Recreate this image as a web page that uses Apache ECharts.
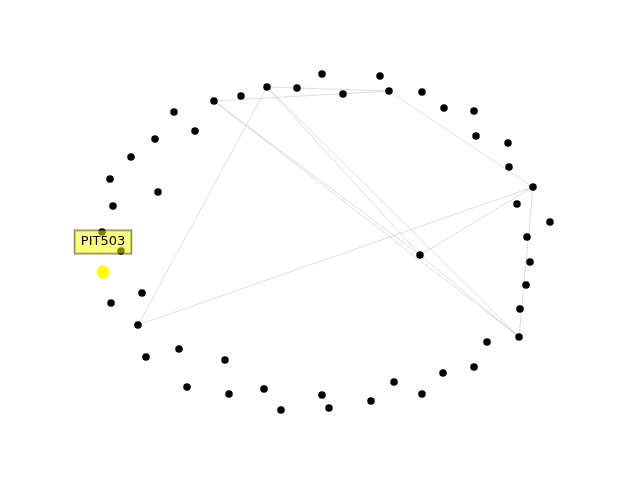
<!DOCTYPE html>
<html>
<head>
<meta charset="utf-8">
<script src="https://cdn.jsdelivr.net/npm/echarts@6/dist/echarts.min.js"></script>
<style>
html, body { margin: 0; padding: 0; background: #fff; }
#main { width: 640px; height: 480px; }
</style>
</head>
<body>
<div id="main"></div>
<script>
// node positions (pixel-like layout space, y grows downward)
var nodeX = [322, 380, 267, 297, 241, 214, 343, 389, 422, 444, 474, 476, 508, 509, 533, 517, 550, 527, 530, 526,
             520, 519, 487, 474, 443, 422, 394, 371, 329, 322, 281, 264, 229, 187, 225, 179, 146, 138, 142, 111,
             102, 121, 113, 110, 131, 155, 158, 174, 195, 420, 103];
var nodeY = [74, 76, 87, 88, 96, 101, 94, 91, 92, 108, 111, 136, 143, 167, 187, 204, 222, 237, 262, 285,
             309, 337, 342, 367, 373, 394, 382, 401, 408, 395, 410, 389, 394, 387, 360, 349, 357, 325, 293, 303,
             232, 251, 206, 179, 157, 139, 192, 112, 131, 255, 272];
var highlighted = 50;
var highlightName = 'PIT503';
var edgeFrom = [5, 2, 2, 37, 7, 14, 14, 5, 2, 2, 5, 49];
var edgeTo   = [7, 7, 37, 14, 14, 21, 49, 21, 21, 49, 49, 21];

var chart = echarts.init(document.getElementById('main'));

var nodes = nodeX.map(function (x, i) {
    var hl = i === highlighted;
    return {
        name: hl ? highlightName : 'n' + i,
        value: [x, nodeY[i]],
        symbolSize: hl ? 13 : 7.5,
        itemStyle: { color: hl ? '#ffff00' : '#000' },
        label: hl ? {
            show: true,
            position: 'top',
            distance: 12,
            color: '#000',
            fontFamily: 'DejaVu Sans',
            fontSize: 13,
            backgroundColor: 'rgba(255,255,0,0.5)',
            borderColor: 'rgba(0,0,0,0.5)',
            borderWidth: 1,
            padding: [5, 6, 5, 6]
        } : { show: false }
    };
});

var links = edgeFrom.map(function (s, i) {
    return { source: s, target: edgeTo[i] };
});

var option = {
    animation: false,
    grid: { left: 0, right: 0, top: 0, bottom: 0 },
    xAxis: { type: 'value', min: 0, max: 640, show: false },
    yAxis: { type: 'value', min: 0, max: 480, inverse: true, show: false },
    series: [{
        type: 'graph',
        coordinateSystem: 'cartesian2d',
        layout: 'none',
        symbol: 'circle',
        data: nodes,
        links: links,
        z: 2,
        lineStyle: { color: '#b9b2bb', width: 1, opacity: 0.45 },
        emphasis: { disabled: true }
    }]
};

chart.setOption(option);
</script>
</body>
</html>
